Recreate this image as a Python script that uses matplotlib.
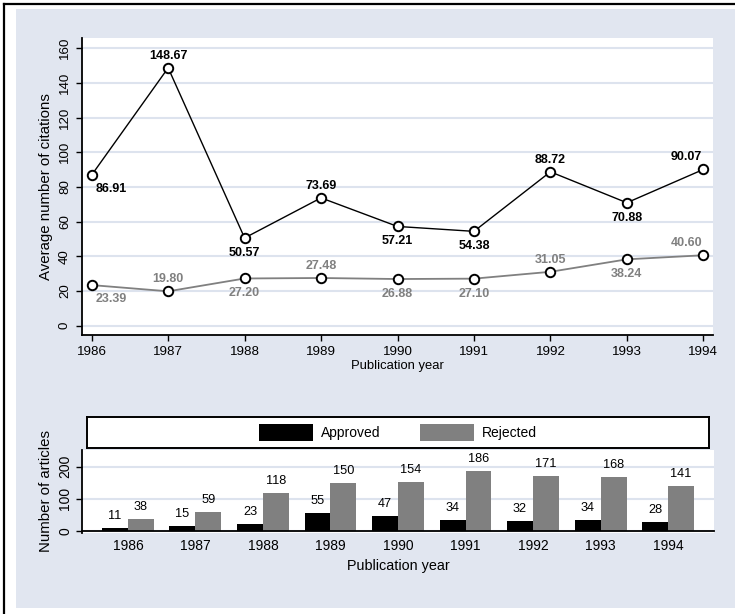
import matplotlib.pyplot as plt
from matplotlib.patches import Rectangle, Patch
from matplotlib.lines import Line2D

plt.rcParams['font.family'] = ['Liberation Sans', 'DejaVu Sans']

years = [1986, 1987, 1988, 1989, 1990, 1991, 1992, 1993, 1994]
cites_approved = [86.91, 148.67, 50.57, 73.69, 57.21, 54.38, 88.72, 70.88, 90.07]
cites_rejected = [23.39, 19.80, 27.20, 27.48, 26.88, 27.10, 31.05, 38.24, 40.60]
n_approved = [11, 15, 23, 55, 47, 34, 32, 34, 28]
n_rejected = [38, 59, 118, 150, 154, 186, 171, 168, 141]

# where each marker label sits (clock position, stata style)
pos_approved = [4, 12, 6, 12, 6, 6, 12, 6, 11]
pos_rejected = [4, 12, 6, 12, 6, 6, 12, 6, 11]

BG = '#e1e6f0'
GRID = '#dde3ee'
GRAY = '#808080'
narrow = ['Liberation Sans Narrow', 'Liberation Sans', 'DejaVu Sans']

fig = plt.figure(figsize=(7.35, 6.14), dpi=100)
fig.patch.set_facecolor('white')

# graph region + cropped outer frame
fig.patches.append(Rectangle((16 / 735, 1 - 608 / 614), 1 - 16 / 735, 599 / 614,
                             transform=fig.transFigure, facecolor=BG,
                             edgecolor='none', zorder=-10))
fig.lines.append(Line2D([3.5 / 735, 1], [1 - 3.5 / 614, 1 - 3.5 / 614],
                        transform=fig.transFigure, color='black', lw=1.6,
                        zorder=-10))
fig.lines.append(Line2D([3.5 / 735, 3.5 / 735], [0, 1 - 3.5 / 614],
                        transform=fig.transFigure, color='black', lw=1.6,
                        zorder=-10))


def offset(p):
    return {4: (4, -14), 12: (0, 12), 6: (0, -15), 11: (-17, 12)}[p]


def halign(p):
    return {4: 'left', 12: 'center', 6: 'center', 11: 'center'}[p]


# ---- top: average citations
ax = fig.add_axes([82 / 735, 1 - 335 / 614, 631 / 735, 297 / 614])
ax.set_facecolor('white')
ax.plot(years, cites_approved, color='black', lw=1.0, marker='o', ms=6.8,
        mfc='white', mec='black', mew=1.4, zorder=3)
ax.plot(years, cites_rejected, color=GRAY, lw=1.3, marker='o', ms=6.8,
        mfc='white', mec='black', mew=1.4, zorder=3)

for x, y, p in zip(years, cites_approved, pos_approved):
    ax.annotate(f'{y:.2f}', (x, y), xytext=offset(p), textcoords='offset pixels',
                ha=halign(p), va='center', fontsize=9, fontweight='bold',
                family=narrow, color='black')
for x, y, p in zip(years, cites_rejected, pos_rejected):
    ax.annotate(f'{y:.2f}', (x, y), xytext=offset(p), textcoords='offset pixels',
                ha=halign(p), va='center', fontsize=9, fontweight='bold',
                family=narrow, color=GRAY)

ax.set_xlim(1985.873, 1994.127)
ax.set_ylim(-5.4, 165.9)
ax.set_xticks(years)
ax.set_yticks(range(0, 161, 20))
ax.yaxis.grid(True, color=GRID, lw=1.5)
ax.set_axisbelow(True)
for s in ['top', 'right']:
    ax.spines[s].set_visible(False)
for s in ['left', 'bottom']:
    ax.spines[s].set_linewidth(1.3)
ax.tick_params(axis='both', length=4, width=1.0, labelsize=9.6, pad=4)
plt.setp(ax.get_yticklabels(), rotation=90, va='center')
ax.set_xlabel('Publication year', fontsize=9.4, labelpad=1)
ax.set_ylabel('Average number of citations', fontsize=10.8, labelpad=4)

# ---- bottom: counts
bx = fig.add_axes([82 / 735, 1 - 533 / 614, 632 / 735, 83 / 614])
bx.set_facecolor('white')
w = 0.385
xa = [y - w / 2 for y in years]
xr = [y + w / 2 for y in years]
bx.bar(xa, n_approved, width=w, color='black', zorder=2)
bx.bar(xr, n_rejected, width=w, color=GRAY, zorder=2)
for x, v in zip(xa, n_approved):
    bx.annotate(str(v), (x, v), xytext=(0, 6), textcoords='offset pixels',
                ha='center', va='bottom', fontsize=9.2, family=narrow)
for x, v in zip(xr, n_rejected):
    bx.annotate(str(v), (x, v), xytext=(0, 6), textcoords='offset pixels',
                ha='center', va='bottom', fontsize=9.2, family=narrow)

bx.set_xlim(1985.319, 1994.681)
bx.set_ylim(-6, 252)
bx.set_xticks(years)
bx.set_yticks([0, 100, 200])
bx.yaxis.grid(True, color=GRID, lw=1.5)
bx.set_axisbelow(True)
for s in ['top', 'right']:
    bx.spines[s].set_visible(False)
bx.spines['bottom'].set_position(('data', 0))
bx.spines['bottom'].set_linewidth(1.3)
bx.spines['bottom'].set_zorder(3)
bx.spines['left'].set_linewidth(1.3)
bx.tick_params(axis='x', length=0, labelsize=10, pad=6)
bx.tick_params(axis='y', length=4, width=1.0, labelsize=10, pad=3)
plt.setp(bx.get_yticklabels(), rotation=90, va='center')
bx.set_xlabel('Publication year', fontsize=10.4, labelpad=4)
bx.set_ylabel('Number of articles', fontsize=10.8, labelpad=4)

# ---- legend box
lx = fig.add_axes([87 / 735, 1 - 448 / 614, 622 / 735, 31 / 614])
lx.set_facecolor('white')
lx.set_xticks([])
lx.set_yticks([])
for s in lx.spines.values():
    s.set_linewidth(1.4)
handles = [Patch(facecolor='black', label='Approved'),
           Patch(facecolor=GRAY, label='Rejected')]
lx.legend(handles=handles, loc='center', ncol=2, frameon=False, fontsize=10,
          handlelength=3.9, handleheight=1.45, handletextpad=0.6,
          columnspacing=2.8, borderpad=0)

fig.savefig('out.png', dpi=100, facecolor='white')
